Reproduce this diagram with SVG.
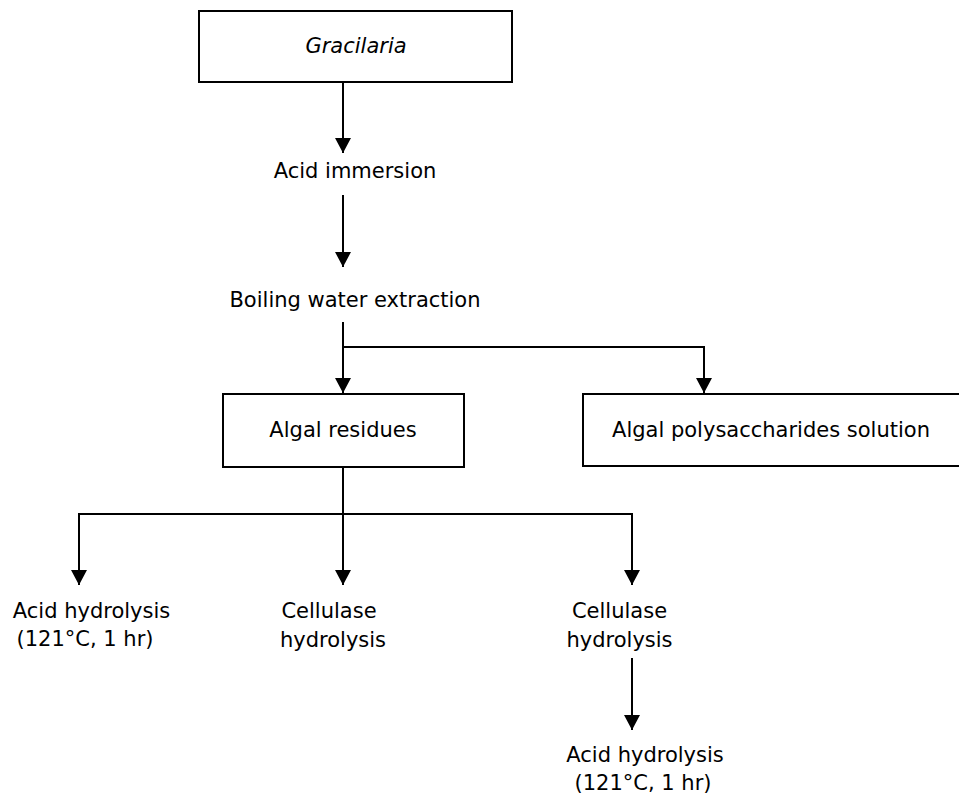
<svg xmlns="http://www.w3.org/2000/svg" width="959" height="796" viewBox="0 0 959 796">
  <style>
    .box { fill: #ffffff; stroke: #000000; stroke-width: 2; }
    .lbl { font-family: "DejaVu Sans", "Liberation Sans", sans-serif; font-size: 21px; fill: #000000; text-anchor: middle; }
    .it { font-style: italic; }
    .conn { fill: none; stroke: #000000; stroke-width: 2; }
    .arr { marker-end: url(#ah); }
  </style>
  <defs>
    <marker id="ah" markerUnits="userSpaceOnUse" markerWidth="16" markerHeight="18" viewBox="0 -9 16 18" refX="15" refY="0" orient="auto">
      <path d="M0,-8 L15,0 L0,8 Z" fill="#000000"/>
    </marker>
  </defs>
  <rect width="959" height="796" fill="#ffffff"/>

  <g id="connectors">
    <line class="conn arr" x1="343" y1="82" x2="343" y2="153"/>
    <line class="conn arr" x1="343" y1="195" x2="343" y2="267"/>
    <line class="conn arr" x1="343" y1="322" x2="343" y2="393"/>
    <polyline class="conn arr" points="343,347 704,347 704,393"/>
    <line class="conn arr" x1="343" y1="467" x2="343" y2="585"/>
    <polyline class="conn arr" points="343,514 79,514 79,585"/>
    <polyline class="conn arr" points="343,514 632,514 632,585"/>
    <line class="conn arr" x1="632" y1="658" x2="632" y2="730"/>
  </g>

  <g id="gracilaria">
    <rect class="box" x="199" y="11" width="313" height="71"/>
    <text class="lbl it" x="356" y="53">Gracilaria</text>
  </g>
  <g id="acid-immersion">
    <text class="lbl" x="355" y="178">Acid immersion</text>
  </g>
  <g id="boiling-water-extraction">
    <text class="lbl" x="355" y="307">Boiling water extraction</text>
  </g>
  <g id="algal-residues">
    <rect class="box" x="223" y="394" width="241" height="73"/>
    <text class="lbl" x="343" y="437">Algal residues</text>
  </g>
  <g id="algal-polysaccharides">
    <rect class="box" x="583" y="394" width="378" height="72"/>
    <text class="lbl" x="771" y="437">Algal polysaccharides solution</text>
  </g>
  <g id="acid-hydrolysis-1">
    <text class="lbl" x="91.5" y="618">Acid hydrolysis</text>
    <text class="lbl" x="85" y="646">(121°C, 1 hr)</text>
  </g>
  <g id="cellulase-hydrolysis-1">
    <text class="lbl" x="329" y="618">Cellulase</text>
    <text class="lbl" x="333" y="647">hydrolysis</text>
  </g>
  <g id="cellulase-hydrolysis-2">
    <text class="lbl" x="619.5" y="618">Cellulase</text>
    <text class="lbl" x="619.5" y="647">hydrolysis</text>
  </g>
  <g id="acid-hydrolysis-2">
    <text class="lbl" x="645" y="762">Acid hydrolysis</text>
    <text class="lbl" x="643" y="790">(121°C, 1 hr)</text>
  </g>
</svg>
